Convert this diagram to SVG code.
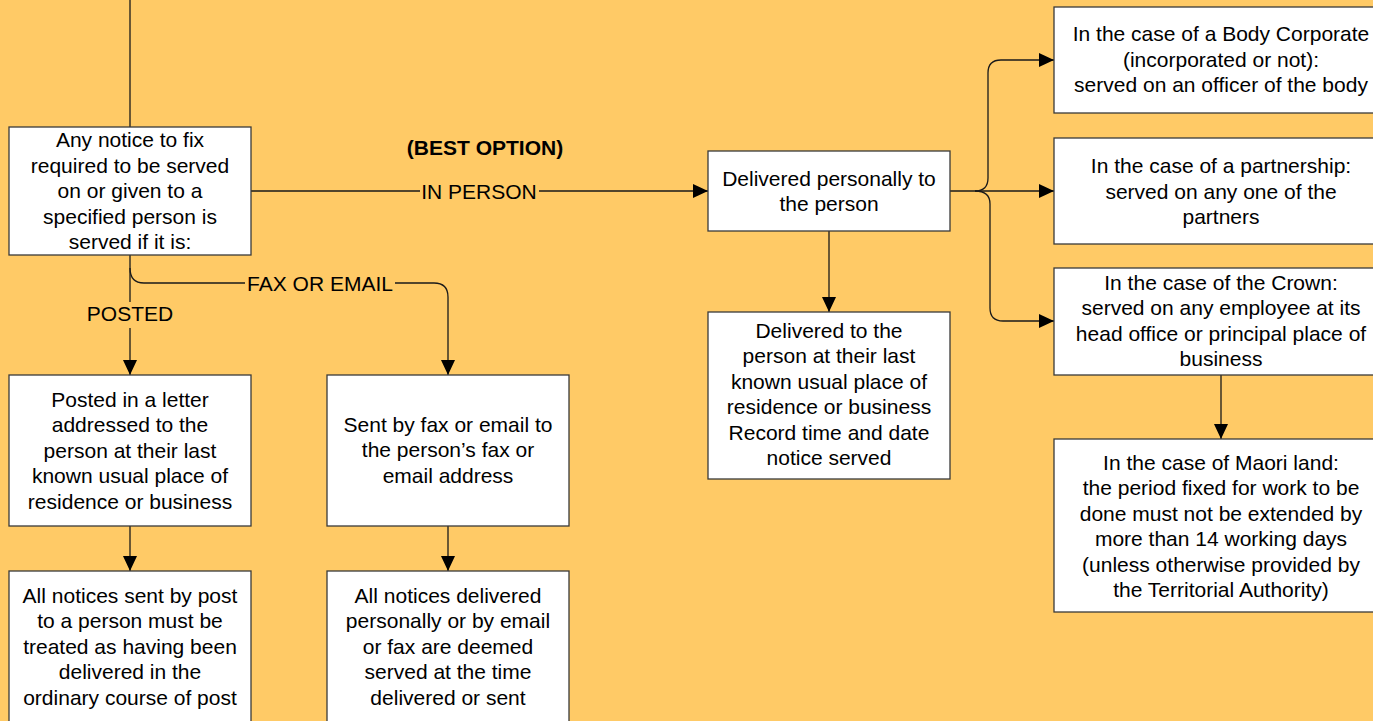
<svg xmlns="http://www.w3.org/2000/svg" width="1373" height="721" viewBox="0 0 1373 721">
<style>
.box{fill:#ffffff;stroke:#3a3a3a;stroke-width:1.3}
.t{font-family:"Liberation Sans",Arial,sans-serif;font-size:21px;fill:#000;text-anchor:middle}
.b{font-weight:bold}
.c{fill:none;stroke:#1a1a1a;stroke-width:1.3}
</style>
<defs>
<marker id="ah" markerUnits="userSpaceOnUse" markerWidth="16" markerHeight="14" refX="15" refY="7" orient="auto">
<path d="M0,0 L15,7 L0,14 Z" fill="#000"/>
</marker>
</defs>
<rect x="0" y="0" width="1373" height="721" fill="#FFCA66"/>
<g id="connectors">
<path class="c" d="M130,0 V127"/>
<path class="c" d="M251,191 H420 M539,191 H708" marker-end="url(#ah)"/>
<path class="c" d="M130,255 V302 M130,328 V375" marker-end="url(#ah)"/>
<path class="c" d="M130,268 Q130,283 144,283 H245 M395,283 H434 Q448,283 448,297 V375" marker-end="url(#ah)"/>
<path class="c" d="M130,526 V571" marker-end="url(#ah)"/>
<path class="c" d="M448,526 V571" marker-end="url(#ah)"/>
<path class="c" d="M829,231 V312" marker-end="url(#ah)"/>
<path class="c" d="M950,191 H1054" marker-end="url(#ah)"/>
<path class="c" d="M975,191 Q988,191 988,178 V73 Q988,60 1001,60 H1054" marker-end="url(#ah)"/>
<path class="c" d="M975,191 Q990,191 990,204 V308 Q990,321 1003,321 H1054" marker-end="url(#ah)"/>
<path class="c" d="M1221,375 V439" marker-end="url(#ah)"/>
<text class="t" x="479" y="198.5">IN PERSON</text>
<text class="t b" x="485" y="155">(BEST OPTION)</text>
<text class="t" x="320" y="290.5">FAX OR EMAIL</text>
<text class="t" x="130" y="321">POSTED</text>
</g>
<g id="n-notice">
<rect class="box" x="9" y="127" width="242" height="128"/>
<text class="t" x="130" y="147">Any notice to fix</text>
<text class="t" x="130" y="172.5">required to be served</text>
<text class="t" x="130" y="198">on or given to a</text>
<text class="t" x="130" y="223.5">specified person is</text>
<text class="t" x="130" y="249">served if it is:</text>
</g>
<g id="n-personal">
<rect class="box" x="708" y="151" width="242" height="80"/>
<text class="t" x="829" y="185.5">Delivered personally to</text>
<text class="t" x="829" y="211">the person</text>
</g>
<g id="n-lastknown">
<rect class="box" x="708" y="312" width="242" height="167"/>
<text class="t" x="829" y="337.5">Delivered to the</text>
<text class="t" x="829" y="363">person at their last</text>
<text class="t" x="829" y="388.5">known usual place of</text>
<text class="t" x="829" y="414">residence or business</text>
<text class="t" x="829" y="439.5">Record time and date</text>
<text class="t" x="829" y="465">notice served</text>
</g>
<g id="n-body">
<rect class="box" x="1054" y="7" width="334" height="106"/>
<text class="t" x="1221" y="41">In the case of a Body Corporate</text>
<text class="t" x="1221" y="66.5">(incorporated or not):</text>
<text class="t" x="1221" y="92">served on an officer of the body</text>
</g>
<g id="n-partner">
<rect class="box" x="1054" y="138" width="334" height="106"/>
<text class="t" x="1221" y="173">In the case of a partnership:</text>
<text class="t" x="1221" y="198.5">served on any one of the</text>
<text class="t" x="1221" y="224">partners</text>
</g>
<g id="n-crown">
<rect class="box" x="1054" y="268" width="334" height="107"/>
<text class="t" x="1221" y="289.5">In the case of the Crown:</text>
<text class="t" x="1221" y="315">served on any employee at its</text>
<text class="t" x="1221" y="340.5">head office or principal place of</text>
<text class="t" x="1221" y="366">business</text>
</g>
<g id="n-maori">
<rect class="box" x="1054" y="439" width="334" height="173"/>
<text class="t" x="1221" y="469.5">In the case of Maori land:</text>
<text class="t" x="1221" y="495">the period fixed for work to be</text>
<text class="t" x="1221" y="520.5">done must not be extended by</text>
<text class="t" x="1221" y="546">more than 14 working days</text>
<text class="t" x="1221" y="571.5">(unless otherwise provided by</text>
<text class="t" x="1221" y="597">the Territorial Authority)</text>
</g>
<g id="n-posted">
<rect class="box" x="9" y="375" width="242" height="151"/>
<text class="t" x="130" y="406.5">Posted in a letter</text>
<text class="t" x="130" y="432">addressed to the</text>
<text class="t" x="130" y="457.5">person at their last</text>
<text class="t" x="130" y="483">known usual place of</text>
<text class="t" x="130" y="508.5">residence or business</text>
</g>
<g id="n-fax">
<rect class="box" x="327" y="375" width="242" height="151"/>
<text class="t" x="448" y="431.5">Sent by fax or email to</text>
<text class="t" x="448" y="457">the person’s fax or</text>
<text class="t" x="448" y="482.5">email address</text>
</g>
<g id="n-postdeemed">
<rect class="box" x="9" y="571" width="242" height="170"/>
<text class="t" x="130" y="602.5">All notices sent by post</text>
<text class="t" x="130" y="628">to a person must be</text>
<text class="t" x="130" y="653.5">treated as having been</text>
<text class="t" x="130" y="679">delivered in the</text>
<text class="t" x="130" y="704.5">ordinary course of post</text>
</g>
<g id="n-faxdeemed">
<rect class="box" x="327" y="571" width="242" height="170"/>
<text class="t" x="448" y="602.5">All notices delivered</text>
<text class="t" x="448" y="628">personally or by email</text>
<text class="t" x="448" y="653.5">or fax are deemed</text>
<text class="t" x="448" y="679">served at the time</text>
<text class="t" x="448" y="704.5">delivered or sent</text>
</g>
</svg>
